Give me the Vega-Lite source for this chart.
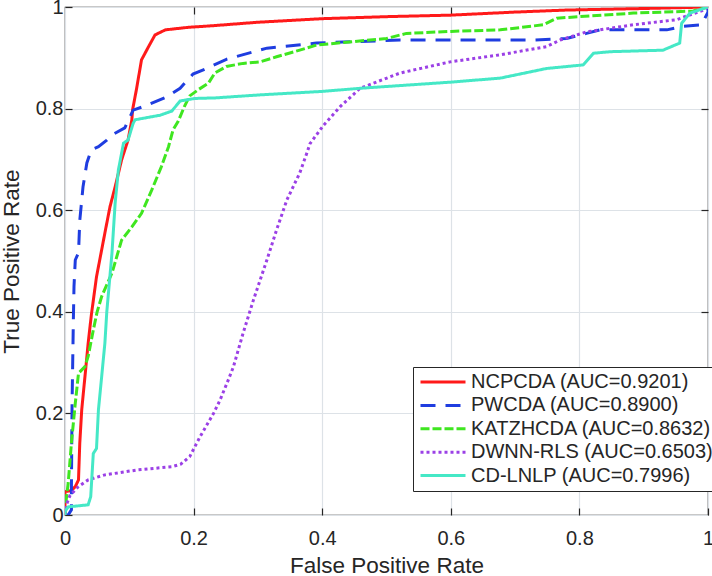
{
  "$schema": "https://vega.github.io/schema/vega-lite/v6.json",
  "width": 643,
  "height": 508,
  "autosize": {"type": "none"},
  "padding": {"left": 65, "top": 7, "right": 4, "bottom": 61},
  "background": "white",
  "config": {
    "font": "Liberation Sans",
    "view": {"stroke": "#262626", "strokeWidth": 1.2},
    "axis": {"labelFont": "Liberation Sans", "titleFont": "Liberation Sans", "labelColor": "#262626", "titleColor": "#262626", "titleFontWeight": "normal"}
  },
  "data": {"values": [
    {"m":"NCPCDA","o":0,"x":0,"y":0},{"m":"NCPCDA","o":1,"x":0,"y":0.046},{"m":"NCPCDA","o":2,"x":0.01,"y":0.048},{"m":"NCPCDA","o":3,"x":0.016,"y":0.056},{"m":"NCPCDA","o":4,"x":0.021,"y":0.069},{"m":"NCPCDA","o":5,"x":0.023,"y":0.142},{"m":"NCPCDA","o":6,"x":0.026,"y":0.207},{"m":"NCPCDA","o":7,"x":0.031,"y":0.272},{"m":"NCPCDA","o":8,"x":0.036,"y":0.338},{"m":"NCPCDA","o":9,"x":0.041,"y":0.394},{"m":"NCPCDA","o":10,"x":0.049,"y":0.469},{"m":"NCPCDA","o":11,"x":0.054,"y":0.502},{"m":"NCPCDA","o":12,"x":0.062,"y":0.555},{"m":"NCPCDA","o":13,"x":0.070,"y":0.607},{"m":"NCPCDA","o":14,"x":0.078,"y":0.646},{"m":"NCPCDA","o":15,"x":0.088,"y":0.699},{"m":"NCPCDA","o":16,"x":0.098,"y":0.738},{"m":"NCPCDA","o":17,"x":0.104,"y":0.778},{"m":"NCPCDA","o":18,"x":0.105,"y":0.797},{"m":"NCPCDA","o":19,"x":0.111,"y":0.837},{"m":"NCPCDA","o":20,"x":0.119,"y":0.896},{"m":"NCPCDA","o":21,"x":0.130,"y":0.922},{"m":"NCPCDA","o":22,"x":0.140,"y":0.945},{"m":"NCPCDA","o":23,"x":0.156,"y":0.955},{"m":"NCPCDA","o":24,"x":0.192,"y":0.960},{"m":"NCPCDA","o":25,"x":0.228,"y":0.963},{"m":"NCPCDA","o":26,"x":0.30,"y":0.970},{"m":"NCPCDA","o":27,"x":0.40,"y":0.977},{"m":"NCPCDA","o":28,"x":0.50,"y":0.981},{"m":"NCPCDA","o":29,"x":0.60,"y":0.984},{"m":"NCPCDA","o":30,"x":0.70,"y":0.990},{"m":"NCPCDA","o":31,"x":0.78,"y":0.994},{"m":"NCPCDA","o":32,"x":0.90,"y":0.997},{"m":"NCPCDA","o":33,"x":1,"y":1},
    {"m":"PWCDA","o":0,"x":0,"y":0},{"m":"PWCDA","o":1,"x":0.005,"y":0},{"m":"PWCDA","o":2,"x":0.01,"y":0.01},{"m":"PWCDA","o":3,"x":0.01,"y":0.056},{"m":"PWCDA","o":4,"x":0.011,"y":0.22},{"m":"PWCDA","o":5,"x":0.013,"y":0.384},{"m":"PWCDA","o":6,"x":0.014,"y":0.45},{"m":"PWCDA","o":7,"x":0.016,"y":0.502},{"m":"PWCDA","o":8,"x":0.021,"y":0.516},{"m":"PWCDA","o":9,"x":0.023,"y":0.58},{"m":"PWCDA","o":10,"x":0.028,"y":0.646},{"m":"PWCDA","o":11,"x":0.034,"y":0.693},{"m":"PWCDA","o":12,"x":0.041,"y":0.719},{"m":"PWCDA","o":13,"x":0.052,"y":0.725},{"m":"PWCDA","o":14,"x":0.065,"y":0.738},{"m":"PWCDA","o":15,"x":0.073,"y":0.748},{"m":"PWCDA","o":16,"x":0.093,"y":0.762},{"m":"PWCDA","o":17,"x":0.106,"y":0.797},{"m":"PWCDA","o":18,"x":0.122,"y":0.804},{"m":"PWCDA","o":19,"x":0.158,"y":0.823},{"m":"PWCDA","o":20,"x":0.179,"y":0.840},{"m":"PWCDA","o":21,"x":0.199,"y":0.868},{"m":"PWCDA","o":22,"x":0.220,"y":0.879},{"m":"PWCDA","o":23,"x":0.251,"y":0.897},{"m":"PWCDA","o":24,"x":0.314,"y":0.919},{"m":"PWCDA","o":25,"x":0.391,"y":0.929},{"m":"PWCDA","o":26,"x":0.521,"y":0.935},{"m":"PWCDA","o":27,"x":0.728,"y":0.935},{"m":"PWCDA","o":28,"x":0.78,"y":0.938},{"m":"PWCDA","o":29,"x":0.811,"y":0.948},{"m":"PWCDA","o":30,"x":0.832,"y":0.955},{"m":"PWCDA","o":31,"x":0.936,"y":0.955},{"m":"PWCDA","o":32,"x":0.961,"y":0.962},{"m":"PWCDA","o":33,"x":0.99,"y":0.965},{"m":"PWCDA","o":34,"x":1,"y":0.99},{"m":"PWCDA","o":35,"x":1,"y":1},
    {"m":"KATZHCDA","o":0,"x":0,"y":0},{"m":"KATZHCDA","o":1,"x":0,"y":0.01},{"m":"KATZHCDA","o":2,"x":0.005,"y":0.063},{"m":"KATZHCDA","o":3,"x":0.010,"y":0.142},{"m":"KATZHCDA","o":4,"x":0.016,"y":0.22},{"m":"KATZHCDA","o":5,"x":0.021,"y":0.279},{"m":"KATZHCDA","o":6,"x":0.031,"y":0.292},{"m":"KATZHCDA","o":7,"x":0.036,"y":0.312},{"m":"KATZHCDA","o":8,"x":0.044,"y":0.364},{"m":"KATZHCDA","o":9,"x":0.050,"y":0.40},{"m":"KATZHCDA","o":10,"x":0.057,"y":0.43},{"m":"KATZHCDA","o":11,"x":0.073,"y":0.476},{"m":"KATZHCDA","o":12,"x":0.088,"y":0.541},{"m":"KATZHCDA","o":13,"x":0.104,"y":0.567},{"m":"KATZHCDA","o":14,"x":0.119,"y":0.594},{"m":"KATZHCDA","o":15,"x":0.135,"y":0.640},{"m":"KATZHCDA","o":16,"x":0.150,"y":0.686},{"m":"KATZHCDA","o":17,"x":0.161,"y":0.725},{"m":"KATZHCDA","o":18,"x":0.168,"y":0.758},{"m":"KATZHCDA","o":19,"x":0.176,"y":0.775},{"m":"KATZHCDA","o":20,"x":0.186,"y":0.805},{"m":"KATZHCDA","o":21,"x":0.194,"y":0.825},{"m":"KATZHCDA","o":22,"x":0.207,"y":0.837},{"m":"KATZHCDA","o":23,"x":0.223,"y":0.850},{"m":"KATZHCDA","o":24,"x":0.233,"y":0.870},{"m":"KATZHCDA","o":25,"x":0.251,"y":0.883},{"m":"KATZHCDA","o":26,"x":0.277,"y":0.889},{"m":"KATZHCDA","o":27,"x":0.303,"y":0.892},{"m":"KATZHCDA","o":28,"x":0.329,"y":0.902},{"m":"KATZHCDA","o":29,"x":0.365,"y":0.915},{"m":"KATZHCDA","o":30,"x":0.391,"y":0.925},{"m":"KATZHCDA","o":31,"x":0.433,"y":0.930},{"m":"KATZHCDA","o":32,"x":0.50,"y":0.938},{"m":"KATZHCDA","o":33,"x":0.531,"y":0.948},{"m":"KATZHCDA","o":34,"x":0.60,"y":0.952},{"m":"KATZHCDA","o":35,"x":0.677,"y":0.955},{"m":"KATZHCDA","o":36,"x":0.744,"y":0.965},{"m":"KATZHCDA","o":37,"x":0.765,"y":0.978},{"m":"KATZHCDA","o":38,"x":0.884,"y":0.988},{"m":"KATZHCDA","o":39,"x":0.977,"y":0.992},{"m":"KATZHCDA","o":40,"x":1,"y":1},
    {"m":"DWNN-RLS","o":0,"x":0,"y":0},{"m":"DWNN-RLS","o":1,"x":0,"y":0.013},{"m":"DWNN-RLS","o":2,"x":0.008,"y":0.039},{"m":"DWNN-RLS","o":3,"x":0.021,"y":0.056},{"m":"DWNN-RLS","o":4,"x":0.036,"y":0.069},{"m":"DWNN-RLS","o":5,"x":0.062,"y":0.079},{"m":"DWNN-RLS","o":6,"x":0.114,"y":0.089},{"m":"DWNN-RLS","o":7,"x":0.166,"y":0.095},{"m":"DWNN-RLS","o":8,"x":0.180,"y":0.100},{"m":"DWNN-RLS","o":9,"x":0.194,"y":0.115},{"m":"DWNN-RLS","o":10,"x":0.210,"y":0.154},{"m":"DWNN-RLS","o":11,"x":0.231,"y":0.200},{"m":"DWNN-RLS","o":12,"x":0.241,"y":0.226},{"m":"DWNN-RLS","o":13,"x":0.254,"y":0.266},{"m":"DWNN-RLS","o":14,"x":0.262,"y":0.292},{"m":"DWNN-RLS","o":15,"x":0.277,"y":0.358},{"m":"DWNN-RLS","o":16,"x":0.293,"y":0.423},{"m":"DWNN-RLS","o":17,"x":0.314,"y":0.502},{"m":"DWNN-RLS","o":18,"x":0.329,"y":0.561},{"m":"DWNN-RLS","o":19,"x":0.345,"y":0.620},{"m":"DWNN-RLS","o":20,"x":0.365,"y":0.673},{"m":"DWNN-RLS","o":21,"x":0.376,"y":0.712},{"m":"DWNN-RLS","o":22,"x":0.381,"y":0.731},{"m":"DWNN-RLS","o":23,"x":0.402,"y":0.767},{"m":"DWNN-RLS","o":24,"x":0.428,"y":0.804},{"m":"DWNN-RLS","o":25,"x":0.459,"y":0.840},{"m":"DWNN-RLS","o":26,"x":0.521,"y":0.870},{"m":"DWNN-RLS","o":27,"x":0.599,"y":0.892},{"m":"DWNN-RLS","o":28,"x":0.677,"y":0.906},{"m":"DWNN-RLS","o":29,"x":0.749,"y":0.922},{"m":"DWNN-RLS","o":30,"x":0.770,"y":0.935},{"m":"DWNN-RLS","o":31,"x":0.811,"y":0.951},{"m":"DWNN-RLS","o":32,"x":0.884,"y":0.965},{"m":"DWNN-RLS","o":33,"x":0.951,"y":0.975},{"m":"DWNN-RLS","o":34,"x":0.993,"y":0.994},{"m":"DWNN-RLS","o":35,"x":1,"y":1},
    {"m":"CD-LNLP","o":0,"x":0,"y":0},{"m":"CD-LNLP","o":1,"x":0,"y":0.007},{"m":"CD-LNLP","o":2,"x":0.005,"y":0.016},{"m":"CD-LNLP","o":3,"x":0.036,"y":0.020},{"m":"CD-LNLP","o":4,"x":0.040,"y":0.036},{"m":"CD-LNLP","o":5,"x":0.044,"y":0.121},{"m":"CD-LNLP","o":6,"x":0.049,"y":0.131},{"m":"CD-LNLP","o":7,"x":0.052,"y":0.207},{"m":"CD-LNLP","o":8,"x":0.057,"y":0.272},{"m":"CD-LNLP","o":9,"x":0.062,"y":0.338},{"m":"CD-LNLP","o":10,"x":0.065,"y":0.40},{"m":"CD-LNLP","o":11,"x":0.073,"y":0.515},{"m":"CD-LNLP","o":12,"x":0.078,"y":0.614},{"m":"CD-LNLP","o":13,"x":0.083,"y":0.679},{"m":"CD-LNLP","o":14,"x":0.091,"y":0.732},{"m":"CD-LNLP","o":15,"x":0.098,"y":0.738},{"m":"CD-LNLP","o":16,"x":0.106,"y":0.771},{"m":"CD-LNLP","o":17,"x":0.109,"y":0.778},{"m":"CD-LNLP","o":18,"x":0.148,"y":0.787},{"m":"CD-LNLP","o":19,"x":0.166,"y":0.795},{"m":"CD-LNLP","o":20,"x":0.179,"y":0.815},{"m":"CD-LNLP","o":21,"x":0.202,"y":0.820},{"m":"CD-LNLP","o":22,"x":0.233,"y":0.821},{"m":"CD-LNLP","o":23,"x":0.303,"y":0.827},{"m":"CD-LNLP","o":24,"x":0.402,"y":0.834},{"m":"CD-LNLP","o":25,"x":0.459,"y":0.840},{"m":"CD-LNLP","o":26,"x":0.599,"y":0.852},{"m":"CD-LNLP","o":27,"x":0.677,"y":0.860},{"m":"CD-LNLP","o":28,"x":0.749,"y":0.879},{"m":"CD-LNLP","o":29,"x":0.806,"y":0.886},{"m":"CD-LNLP","o":30,"x":0.822,"y":0.909},{"m":"CD-LNLP","o":31,"x":0.848,"y":0.912},{"m":"CD-LNLP","o":32,"x":0.930,"y":0.915},{"m":"CD-LNLP","o":33,"x":0.956,"y":0.929},{"m":"CD-LNLP","o":34,"x":0.959,"y":0.968},{"m":"CD-LNLP","o":35,"x":0.972,"y":0.988},{"m":"CD-LNLP","o":36,"x":1,"y":1}
  ]},
  "transform": [
    {"calculate": "datum.m == 'NCPCDA' ? 'NCPCDA (AUC=0.9201)' : datum.m == 'PWCDA' ? 'PWCDA (AUC=0.8900)' : datum.m == 'KATZHCDA' ? 'KATZHCDA (AUC=0.8632)' : datum.m == 'DWNN-RLS' ? 'DWNN-RLS (AUC=0.6503)' : 'CD-LNLP (AUC=0.7996)'", "as": "label"}
  ],
  "layer": [
    {
      "mark": {"type": "line", "strokeWidth": 3, "strokeCap": "butt", "clip": true},
      "encoding": {
        "x": {"field": "x", "type": "quantitative", "scale": {"domain": [0, 1], "nice": false, "zero": false},
          "axis": {"title": "False Positive Rate", "titleFontSize": 22.5, "titlePadding": 6, "labelFontSize": 20, "values": [0, 0.2, 0.4, 0.6, 0.8, 1], "format": "~g", "grid": true, "gridColor": "#dde2e7", "gridWidth": 1.2, "domain": false, "ticks": true, "tickSize": -7, "tickColor": "#262626", "tickWidth": 1.2, "labelPadding": 20, "labelFlush": false}},
        "y": {"field": "y", "type": "quantitative", "scale": {"domain": [0, 1], "nice": false, "zero": false},
          "axis": {"title": "True Positive Rate", "titleFontSize": 22.5, "titlePadding": 12, "labelFontSize": 20, "values": [0, 0.2, 0.4, 0.6, 0.8, 1], "format": "~g", "grid": true, "gridColor": "#dde2e7", "gridWidth": 1.2, "domain": false, "ticks": true, "tickSize": -7, "tickColor": "#262626", "tickWidth": 1.2, "labelPadding": 9, "labelFlush": false}},
        "order": {"field": "o", "type": "quantitative"},
        "color": {"field": "label", "type": "nominal",
          "scale": {"domain": ["NCPCDA (AUC=0.9201)", "PWCDA (AUC=0.8900)", "KATZHCDA (AUC=0.8632)", "DWNN-RLS (AUC=0.6503)", "CD-LNLP (AUC=0.7996)"], "range": ["#ff1a1a", "#1f3de0", "#3fe620", "#9b40e6", "#45e8c6"]},
          "legend": {"title": null, "orient": "none", "legendX": 348, "legendY": 360, "symbolType": "M-1,0H5", "symbolSize": 225, "symbolStrokeWidth": 3, "labelFontSize": 20, "labelFont": "Liberation Sans", "labelColor": "#262626", "labelOffset": 33, "strokeColor": "#262626", "fillColor": "white", "padding": 5, "rowPadding": 3.4, "labelLimit": 300}},
        "strokeDash": {"field": "label", "type": "nominal",
          "scale": {"domain": ["NCPCDA (AUC=0.9201)", "PWCDA (AUC=0.8900)", "KATZHCDA (AUC=0.8632)", "DWNN-RLS (AUC=0.6503)", "CD-LNLP (AUC=0.7996)"], "range": [[1, 0], [15, 10], [9, 3], [3, 3], [1, 0]]},
          "legend": {"title": null, "orient": "none", "legendX": 348, "legendY": 360, "symbolType": "M-1,0H5", "symbolSize": 225, "symbolStrokeWidth": 3, "labelFontSize": 20, "labelFont": "Liberation Sans", "labelColor": "#262626", "labelOffset": 33, "strokeColor": "#262626", "fillColor": "white", "padding": 5, "rowPadding": 3.4, "labelLimit": 300}}
      }
    },
    {
      "mark": {"type": "point", "opacity": 0},
      "encoding": {
        "x": {"field": "x", "type": "quantitative", "axis": {"orient": "top", "title": null, "labels": false, "grid": false, "domain": false, "values": [0.2, 0.4, 0.6, 0.8], "tickSize": -7, "tickColor": "#262626", "tickWidth": 1.2}},
        "y": {"field": "y", "type": "quantitative", "axis": {"orient": "right", "title": null, "labels": false, "grid": false, "domain": false, "values": [0.2, 0.4, 0.6, 0.8], "tickSize": -7, "tickColor": "#262626", "tickWidth": 1.2}}
      }
    }
  ],
  "resolve": {"axis": {"x": "independent", "y": "independent"}}
}
